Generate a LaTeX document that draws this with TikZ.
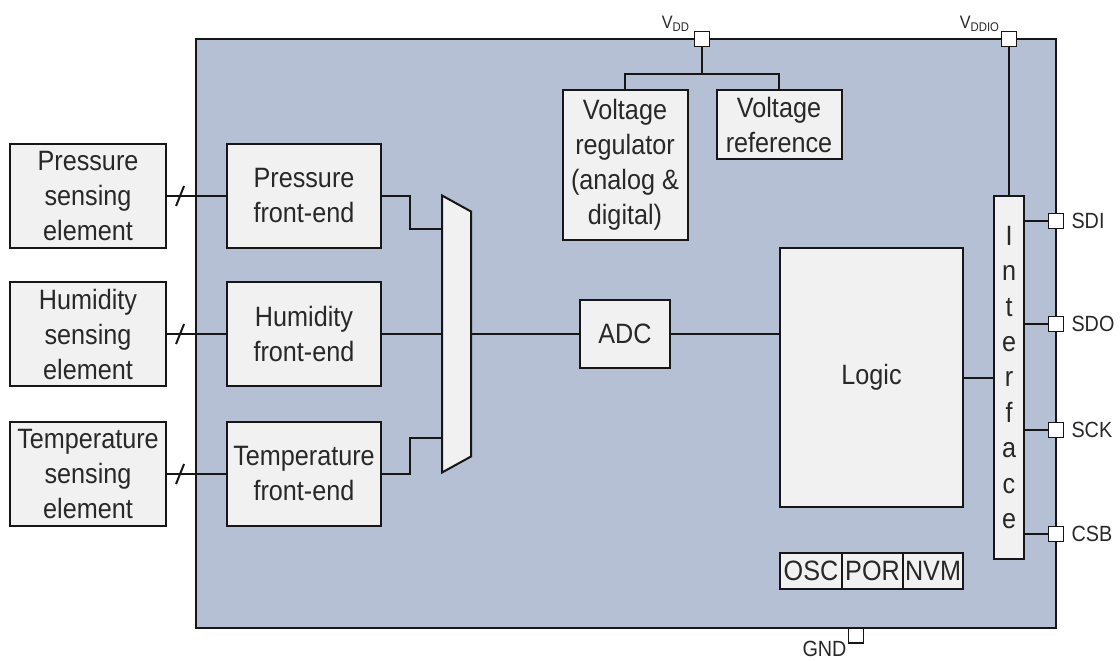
\documentclass[tikz,border=0pt]{standalone}
\usepackage{fontspec}
\setmainfont{Liberation Sans}[FakeStretch=0.9]
\usepackage{tikz}
\usetikzlibrary{positioning}

\definecolor{chipfill}{RGB}{181,192,212}
\definecolor{boxfill}{RGB}{241,241,241}
\definecolor{linecol}{RGB}{22,22,22}
\definecolor{txt}{RGB}{40,40,40}

\newcommand\blockfont{\fontsize{28}{35}\selectfont}
\newcommand\ifacefont{\fontsize{28}{35.5}\selectfont}
\newcommand\pinfont{\fontsize{22}{26}\selectfont}
\newcommand\supplyfont{\fontsize{18}{20}\selectfont}

\begin{document}
\begin{tikzpicture}[
			x=1pt, y=-1pt,
			line width=2pt,
			every node/.style={outer sep=0pt},
			block/.style={
				draw=linecol,
				fill=boxfill,
				inner sep=1pt,
				align=center,
				font=\blockfont,
				text=txt
			},
			sensor/.style={block, minimum width=156pt, minimum height=104pt},
			frontend/.style={block, minimum width=154pt, minimum height=104pt},
			pin/.style={draw=linecol, fill=white, minimum size=15pt, inner sep=0pt, line width=1.8pt},
			lbl/.style={inner sep=0pt, font=\pinfont, text=txt},
			link/.style={draw=linecol, line width=2pt}
			]
			
			\useasboundingbox (0,0) rectangle (1120,661);
			
			%--------------------------------------------------
			% Chip
			%--------------------------------------------------
			
			\node[draw=linecol, fill=chipfill, minimum width=860pt, minimum height=589pt] (chip) at (626,333.5) {};
			
			%--------------------------------------------------
			% Sensing elements
			%--------------------------------------------------
			
			\node[sensor] (psens) at (88,196) {Pressure\\sensing\\element};
			
			\node[sensor] (hsens) [below=34pt of psens] {Humidity\\sensing\\element};
			
			\node[sensor] (tsens) [below=36pt of hsens] {Temperature\\sensing\\element};
			
			%--------------------------------------------------
			% Front-ends and mux
			%--------------------------------------------------
			
			\node[frontend] (pfe) [right=61pt of psens] {Pressure\\front-end};
			
			\node[frontend] (hfe) [right=61pt of hsens] {Humidity\\front-end};
			
			\node[frontend] (tfe) [right=61pt of tsens] {Temperature\\front-end};
			
			\node[minimum width=29pt, minimum height=277pt, inner sep=0pt] (mux) [right=61pt of hfe] {};
			
			\draw[link, fill=boxfill]
			(mux.north west) -- ([yshift=-16pt]mux.north east)
			-- ([yshift=16pt]mux.south east) -- (mux.south west) -- cycle;
			
			%--------------------------------------------------
			% Conversion and logic
			%--------------------------------------------------
			
			\node[block, minimum width=90pt, minimum height=68pt] (adc) [right=109pt of mux] {ADC};
			
			\node[block, minimum width=183pt, minimum height=259pt] (logic) at (871.5,377.5) {Logic};
			
			\node[block, minimum width=30pt, minimum height=363pt, font=\ifacefont] (iface) [right=31pt of logic] {I\\n\\t\\e\\r\\f\\a\\c\\e};
			
			\node[block, minimum width=62pt, minimum height=36pt] (osc) [below=46pt of logic.south west, anchor=north west] {OSC};
			
			\node[block, minimum width=61pt, minimum height=36pt] (por) [right=0pt of osc] {POR};
			
			\node[block, minimum width=60pt, minimum height=36pt] (nvm) [right=0pt of por] {NVM};
			
			%--------------------------------------------------
			% Supply
			%--------------------------------------------------
			
			\node[block, minimum width=125pt, minimum height=150pt] (reg) [above=60pt of adc] {Voltage\\regulator\\(analog \&\\digital)};
			
			\node[block, minimum width=125pt, minimum height=69pt] (vref) [right=29pt of reg.north east, anchor=north west] {Voltage\\reference};
			
			%--------------------------------------------------
			% Pins
			%--------------------------------------------------
			
			\node[pin] (vdd) at (702,39) {};
			\node[pin] (vddio) at (iface.north |- chip.north) {};
			\node[pin] (sdi) at (1056,221) {};
			\node[pin] (sdo) at (1056,324) {};
			\node[pin] (sck) at (1056,430) {};
			\node[pin] (csb) at (1056,534) {};
			\node[pin, anchor=north] (gnd) at (856,628) {};
			
			\node[lbl, font=\supplyfont, anchor=base east] (vddlbl) at ([xshift=-5pt,yshift=3pt]vdd.north west) {V\textsubscript{DD}};
			\node[lbl, font=\supplyfont, anchor=base east] (vddiolbl) at ([xshift=-2pt,yshift=3pt]vddio.north west) {V\textsubscript{DDIO}};
			\node[lbl] (sdilbl) [right=8pt of sdi] {SDI};
			\node[lbl] (sdolbl) [right=8pt of sdo] {SDO};
			\node[lbl] (scklbl) [right=8pt of sck] {SCK};
			\node[lbl] (csblbl) [right=8pt of csb] {CSB};
			\node[lbl, anchor=north east] (gndlbl) at ([xshift=-2pt,yshift=2pt]gnd.south west) {GND};
			
			%--------------------------------------------------
			% Signal flow
			%--------------------------------------------------
			
			\draw[link] (psens) -- coordinate[pos=0.23] (pslash) (pfe);
			\draw[link] ([shift={(-4pt,-10pt)}]pslash) -- ([shift={(4pt,10pt)}]pslash);
			
			\draw[link] (hsens) -- coordinate[pos=0.23] (hslash) (hfe);
			\draw[link] ([shift={(-4pt,-10pt)}]hslash) -- ([shift={(4pt,10pt)}]hslash);
			
			\draw[link] (tsens) -- coordinate[pos=0.23] (tslash) (tfe);
			\draw[link] ([shift={(-4pt,-10pt)}]tslash) -- ([shift={(4pt,10pt)}]tslash);
			
			\draw[link] (pfe.east) -- ++(29pt,0) |- ([yshift=-33pt]mux.north west);
			\draw[link] (hfe) -- (hfe -| mux.west);
			\draw[link] (tfe.east) -- ++(29pt,0) |- ([yshift=35pt]mux.south west);
			
			\draw[link] (mux) -- (adc);
			\draw[link] (adc) -- (adc -| logic.west);
			\draw[link] (logic) -- (iface);
			
			\draw[link] (sdi) -- (sdi -| iface.east);
			\draw[link] (sdo) -- (sdo -| iface.east);
			\draw[link] (sck) -- (sck -| iface.east);
			\draw[link] (csb) -- (csb -| iface.east);
			
			%--------------------------------------------------
			% Supply lines
			%--------------------------------------------------
			
			\coordinate (vddsplit) at (702,74);
			\draw[link] (vdd) -- (vddsplit);
			\draw[link] (reg.north) |- (vddsplit) -| (vref.north);
			\draw[link] (vddio) -- (iface);
			
		\end{tikzpicture}
\end{document}
